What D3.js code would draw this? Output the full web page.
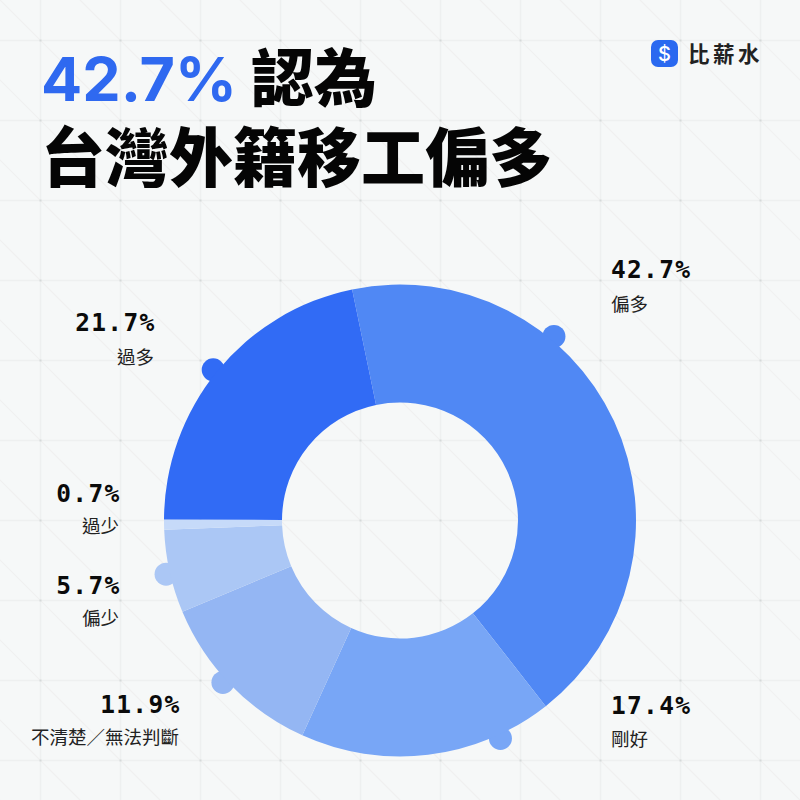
<!DOCTYPE html>
<html><head><meta charset="utf-8">
<script src="https://cdn.jsdelivr.net/npm/d3@7"></script>
<style>html,body{margin:0;padding:0;background:#f6f8f8}svg{display:block}</style>
</head><body><svg id="c" width="800" height="800"></svg>
<script>
const categories=["偏多","剛好","不清楚／無法判斷","偏少","過少","過多"];
const values=[42.7,17.4,11.9,5.7,0.7,21.7];
const valueLabels=["42.7%","17.4%","11.9%","5.7%","0.7%","21.7%"];
const colors=["#5088f4","#78a6f6","#94b6f3","#abc7f5","#c6daf9","#316bf5"];
const dotFractions=[0.336,0.214,0.54,0.48,null,0.495];
const titleAccent="42.7%";
const titleRest="認為";
const titleLine2="台灣外籍移工偏多";
const brandName="比薪水";

const W=800,H=800,cx=400,cy=520.5,R=236,r=118;
const svg=d3.select("#c");
svg.append("rect").attr("width",W).attr("height",H).attr("fill","#f6f8f8");
const gridStops=d3.range(40,800,80);
const bg=svg.append("g");
bg.selectAll(".diag").data(d3.range(-800,800,80)).join("line")
  .attr("x1",d=>d).attr("y1",0).attr("x2",d=>d+800).attr("y2",800)
  .attr("stroke","#f0f0f0").attr("stroke-width",1.2);
bg.selectAll(".v").data(gridStops).join("line")
  .attr("x1",d=>d+.5).attr("x2",d=>d+.5).attr("y1",0).attr("y2",H)
  .attr("stroke","#eef0f0").attr("stroke-width",1.6);
bg.selectAll(".h").data(gridStops).join("line")
  .attr("y1",d=>d+.5).attr("y2",d=>d+.5).attr("x1",0).attr("x2",W)
  .attr("stroke","#eef0f0").attr("stroke-width",1.6);
gridStops.forEach(x=>gridStops.forEach(y=>{
  bg.append("rect").attr("x",x-.5).attr("y",y-.5).attr("width",2).attr("height",2).attr("fill","#d6d9d9");
}));

const start=-11.7*Math.PI/180;
const pie=d3.pie().sort(null).value(d=>d).startAngle(start).endAngle(start+2*Math.PI);
const arcs=pie(values);
const arc=d3.arc().innerRadius(r).outerRadius(R);
const g=svg.append("g").attr("transform",`translate(${cx},${cy})`);
const dotPos=d=>d.startAngle+(d.endAngle-d.startAngle)*dotFractions[d.index];
g.selectAll("circle").data(arcs.filter((d,i)=>dotFractions[i]!=null)).join("circle")
  .attr("r",11.5)
  .attr("cx",d=>240*Math.sin(dotPos(d)))
  .attr("cy",d=>-240*Math.cos(dotPos(d)))
  .attr("fill",d=>colors[d.index]);
g.selectAll("path").data(arcs).join("path").attr("d",arc).attr("fill",d=>colors[d.index]);

const cjk='"Noto Sans CJK TC","Noto Sans CJK SC",sans-serif';
const mono='"DejaVu Sans Mono",monospace';
const labelAnchors=[[611,"start",278,311],[611,"start",714,746],[179,"end",713,744],[119,"end",594,625],[119,"end",502,533],[154,"end",331,364]];
labelAnchors.forEach((p,i)=>{
  svg.append("text").attr("x",p[1]==="end"?p[0]+1.5:p[0]).attr("y",p[2]).attr("text-anchor",p[1])
    .attr("font-family",mono).attr("font-weight",700).attr("font-size",24.5).attr("letter-spacing",1.3).attr("fill","#0b0b0b").text(valueLabels[i]);
  svg.append("text").attr("x",p[0]).attr("y",p[3]).attr("text-anchor",p[1])
    .attr("font-family",cjk).attr("font-weight",400).attr("font-size",18.5).attr("fill","#222").text(categories[i]);
});

svg.append("text").attr("x",41).attr("y",101).attr("fill","#2f69f0").attr("font-family",'Inter,sans-serif').attr("font-weight",700).attr("font-size",61).text(titleAccent);
svg.append("text").attr("x",251).attr("y",101).attr("fill","#050505").attr("font-family",cjk).attr("font-weight",900).attr("font-size",63).text(titleRest);
svg.append("text").attr("x",41).attr("y",181).attr("font-family",cjk).attr("font-weight",900).attr("font-size",64).attr("fill","#050505").text(titleLine2);

const logo=svg.append("g").attr("transform","translate(651,40)");
logo.append("rect").attr("width",27).attr("height",27).attr("rx",7).attr("fill","#2a69f0");
logo.append("text").attr("x",13.5).attr("y",20.5).attr("text-anchor","middle").attr("font-family","Inter,sans-serif").attr("font-weight",500).attr("font-size",20).attr("fill","#fff").text("$");
svg.append("text").attr("x",688).attr("y",62).attr("font-family",cjk).attr("font-weight",700).attr("font-size",21.5).attr("letter-spacing",3.5).attr("fill","#222").text(brandName);
</script></body></html>
